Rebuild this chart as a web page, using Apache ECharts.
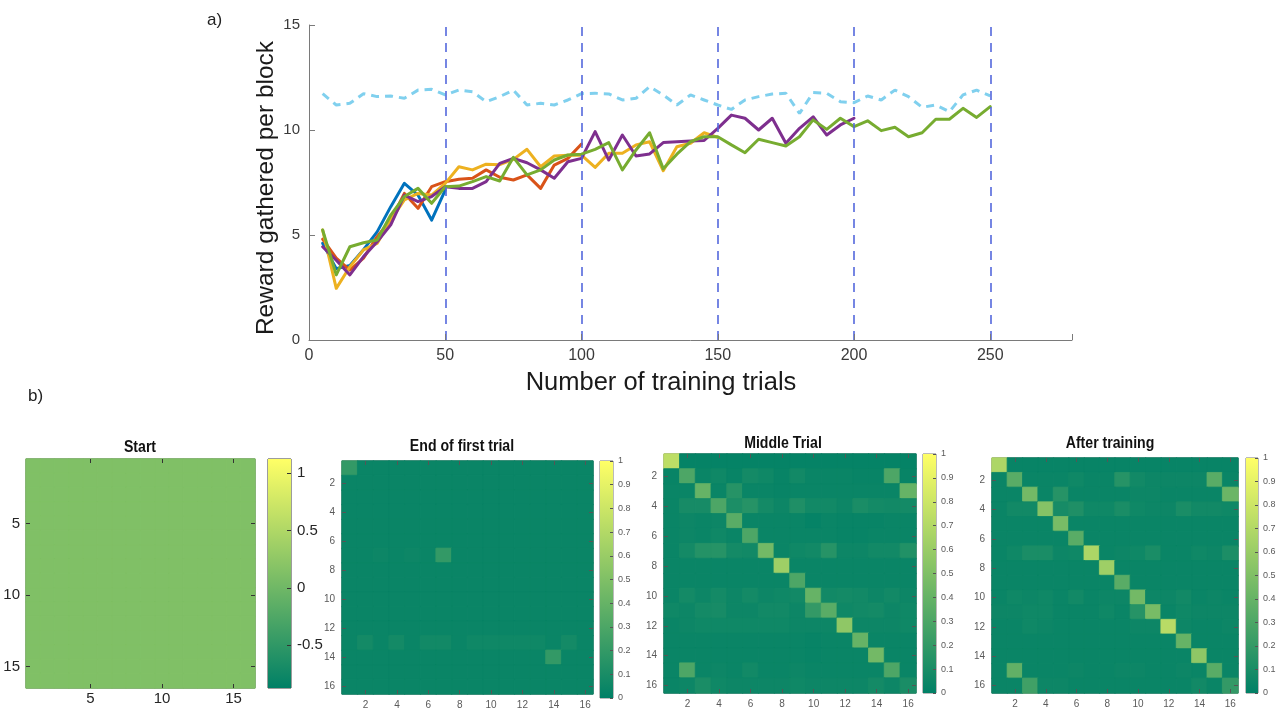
<!DOCTYPE html>
<html>
<head>
<meta charset="utf-8">
<script src="https://cdn.jsdelivr.net/npm/echarts@6/dist/echarts.min.js"></script>
<style>
  html, body { margin: 0; padding: 0; background: #ffffff; }
  #main { width: 1281px; height: 710px; }
</style>
</head>
<body>
<div id="main"></div>
<script>
// ---- a) reward per block of 5 trials ----
const trials = [5,10,15,20,25,30,35,40,45,50,55,60,65,70,75,80,85,90,95,100,
  105,110,115,120,125,130,135,140,145,150,155,160,165,170,175,180,185,190,195,200,
  205,210,215,220,225,230,235,240,245,250];
const rewardRun50  = [4.6,3.4,3.55,4.3,5.15,6.35,7.46,6.9,5.71,7.14];
const rewardRun100 = [4.8,3.9,3.33,3.9,4.92,5.71,6.98,6.27,7.3,7.54,
  7.65,7.7,8.1,7.75,7.62,7.86,7.22,8.33,8.65,9.33];
const rewardRun150 = [5.24,2.46,3.49,4.29,4.6,5.71,6.67,6.98,6.9,7.46,
  8.25,8.1,8.37,8.35,8.6,9.08,8.25,8.76,8.8,8.8,
  8.22,8.89,8.89,9.29,9.44,8.06,9.2,9.37,9.87,9.65];
const rewardRun200 = [4.44,3.8,3.1,3.97,4.68,5.48,6.9,6.59,6.83,7.3,
  7.22,7.22,7.54,8.41,8.65,8.44,8.1,7.7,8.49,8.65,
  9.92,8.57,9.76,8.76,8.86,9.4,9.44,9.48,9.5,10.08,
  10.71,10.56,10.0,10.56,9.37,10.08,10.63,9.76,10.24,10.56];
const rewardRun250 = [5.24,3.1,4.44,4.63,4.76,5.95,6.83,7.22,6.51,7.3,
  7.33,7.54,7.78,7.57,8.7,7.86,8.1,8.57,8.81,8.85,
  9.08,9.4,8.1,9.05,9.87,8.15,8.85,9.45,9.68,9.68,
  9.29,8.92,9.56,9.4,9.24,9.68,10.48,10.03,10.56,10.16,
  10.44,9.97,10.13,9.68,9.87,10.51,10.51,11.03,10.6,11.11];
const rewardOptimal = [11.73,11.19,11.27,11.73,11.59,11.62,11.51,11.9,11.94,11.67,
  11.9,11.82,11.35,11.59,11.9,11.19,11.27,11.19,11.43,11.73,
  11.75,11.72,11.43,11.51,12.06,11.67,11.19,11.67,11.43,11.19,
  10.98,11.43,11.59,11.71,11.75,10.79,11.78,11.75,11.35,11.3,
  11.62,11.43,11.9,11.59,11.08,11.19,10.87,11.67,11.9,11.62];
const blockEnds = [50, 100, 150, 200, 250];
const rewardTicks = [0, 5, 10, 15];

// ---- b) association matrices (row = y, column = x) ----
const heatTitles = ['Start', 'End of first trial', 'Middle Trial', 'After training'];
const matStart = [
  [0.125,0.125,0.125,0.125,0.125,0.125,0.125,0.125,0.125,0.125,0.125,0.125,0.125,0.125,0.125,0.125],
  [0.125,0.125,0.125,0.125,0.125,0.125,0.125,0.125,0.125,0.125,0.125,0.125,0.125,0.125,0.125,0.125],
  [0.125,0.125,0.125,0.125,0.125,0.125,0.125,0.125,0.125,0.125,0.125,0.125,0.125,0.125,0.125,0.125],
  [0.125,0.125,0.125,0.125,0.125,0.125,0.125,0.125,0.125,0.125,0.125,0.125,0.125,0.125,0.125,0.125],
  [0.125,0.125,0.125,0.125,0.125,0.125,0.125,0.125,0.125,0.125,0.125,0.125,0.125,0.125,0.125,0.125],
  [0.125,0.125,0.125,0.125,0.125,0.125,0.125,0.125,0.125,0.125,0.125,0.125,0.125,0.125,0.125,0.125],
  [0.125,0.125,0.125,0.125,0.125,0.125,0.125,0.125,0.125,0.125,0.125,0.125,0.125,0.125,0.125,0.125],
  [0.125,0.125,0.125,0.125,0.125,0.125,0.125,0.125,0.125,0.125,0.125,0.125,0.125,0.125,0.125,0.125],
  [0.125,0.125,0.125,0.125,0.125,0.125,0.125,0.125,0.125,0.125,0.125,0.125,0.125,0.125,0.125,0.125],
  [0.125,0.125,0.125,0.125,0.125,0.125,0.125,0.125,0.125,0.125,0.125,0.125,0.125,0.125,0.125,0.125],
  [0.125,0.125,0.125,0.125,0.125,0.125,0.125,0.125,0.125,0.125,0.125,0.125,0.125,0.125,0.125,0.125],
  [0.125,0.125,0.125,0.125,0.125,0.125,0.125,0.125,0.125,0.125,0.125,0.125,0.125,0.125,0.125,0.125],
  [0.125,0.125,0.125,0.125,0.125,0.125,0.125,0.125,0.125,0.125,0.125,0.125,0.125,0.125,0.125,0.125],
  [0.125,0.125,0.125,0.125,0.125,0.125,0.125,0.125,0.125,0.125,0.125,0.125,0.125,0.125,0.125,0.125],
  [0.125,0.125,0.125,0.125,0.125,0.125,0.125,0.125,0.125,0.125,0.125,0.125,0.125,0.125,0.125,0.125],
  [0.125,0.125,0.125,0.125,0.125,0.125,0.125,0.125,0.125,0.125,0.125,0.125,0.125,0.125,0.125,0.125]
];
const matEndFirst = [
  [0.20,0.04,0.04,0.04,0.04,0.04,0.04,0.04,0.04,0.04,0.04,0.04,0.04,0.04,0.04,0.04],
  [0.04,0.04,0.04,0.04,0.04,0.04,0.04,0.04,0.04,0.04,0.04,0.04,0.04,0.04,0.04,0.04],
  [0.04,0.04,0.04,0.04,0.04,0.04,0.04,0.04,0.04,0.04,0.04,0.04,0.04,0.04,0.04,0.04],
  [0.04,0.04,0.04,0.04,0.04,0.04,0.04,0.04,0.04,0.04,0.04,0.04,0.04,0.04,0.04,0.04],
  [0.04,0.04,0.04,0.04,0.04,0.04,0.04,0.04,0.04,0.04,0.04,0.04,0.04,0.04,0.04,0.04],
  [0.04,0.04,0.04,0.04,0.04,0.04,0.04,0.04,0.04,0.04,0.04,0.04,0.04,0.04,0.04,0.04],
  [0.04,0.04,0.05,0.04,0.05,0.04,0.20,0.04,0.04,0.04,0.04,0.04,0.04,0.04,0.04,0.04],
  [0.04,0.04,0.04,0.04,0.04,0.04,0.04,0.04,0.04,0.04,0.04,0.04,0.04,0.04,0.04,0.04],
  [0.04,0.04,0.04,0.04,0.04,0.04,0.04,0.04,0.04,0.04,0.04,0.04,0.04,0.04,0.04,0.04],
  [0.04,0.04,0.04,0.04,0.04,0.04,0.04,0.04,0.04,0.04,0.04,0.04,0.04,0.04,0.04,0.04],
  [0.04,0.04,0.04,0.04,0.04,0.04,0.04,0.04,0.04,0.04,0.04,0.04,0.04,0.04,0.04,0.04],
  [0.04,0.04,0.04,0.04,0.04,0.04,0.04,0.04,0.04,0.04,0.04,0.04,0.04,0.04,0.04,0.04],
  [0.04,0.08,0.04,0.08,0.04,0.07,0.07,0.04,0.06,0.06,0.06,0.06,0.06,0.04,0.08,0.04],
  [0.04,0.04,0.04,0.04,0.04,0.04,0.04,0.04,0.04,0.04,0.04,0.04,0.04,0.20,0.04,0.04],
  [0.04,0.04,0.04,0.04,0.04,0.04,0.04,0.04,0.04,0.04,0.04,0.04,0.04,0.04,0.04,0.04],
  [0.04,0.04,0.04,0.04,0.04,0.04,0.04,0.04,0.04,0.04,0.04,0.04,0.04,0.04,0.04,0.04]
];
const matMiddle = [
  [0.74,0.02,0.02,0.02,0.02,0.02,0.02,0.02,0.02,0.02,0.02,0.02,0.02,0.02,0.02,0.02],
  [0.03,0.30,0.04,0.06,0.03,0.08,0.06,0.03,0.07,0.04,0.04,0.04,0.03,0.03,0.30,0.03],
  [0.04,0.04,0.40,0.04,0.15,0.04,0.04,0.03,0.04,0.04,0.04,0.04,0.04,0.04,0.04,0.40],
  [0.04,0.09,0.09,0.30,0.11,0.15,0.08,0.05,0.12,0.07,0.07,0.05,0.10,0.08,0.07,0.08],
  [0.04,0.05,0.04,0.05,0.35,0.04,0.04,0.04,0.04,0.02,0.04,0.03,0.03,0.03,0.04,0.04],
  [0.04,0.05,0.04,0.06,0.04,0.30,0.04,0.04,0.04,0.04,0.04,0.03,0.03,0.04,0.04,0.04],
  [0.04,0.08,0.14,0.15,0.08,0.07,0.45,0.04,0.06,0.07,0.15,0.05,0.05,0.07,0.07,0.13],
  [0.04,0.04,0.04,0.04,0.04,0.04,0.04,0.62,0.04,0.04,0.04,0.04,0.04,0.04,0.04,0.04],
  [0.04,0.04,0.04,0.04,0.04,0.04,0.04,0.04,0.30,0.04,0.04,0.04,0.04,0.04,0.04,0.04],
  [0.04,0.08,0.05,0.08,0.05,0.08,0.05,0.06,0.07,0.40,0.07,0.08,0.07,0.05,0.07,0.05],
  [0.06,0.05,0.08,0.09,0.05,0.05,0.07,0.07,0.05,0.20,0.35,0.06,0.07,0.08,0.05,0.06],
  [0.04,0.05,0.06,0.06,0.06,0.06,0.06,0.06,0.05,0.05,0.05,0.56,0.05,0.05,0.05,0.06],
  [0.04,0.04,0.04,0.04,0.04,0.04,0.04,0.04,0.04,0.03,0.04,0.04,0.40,0.04,0.04,0.04],
  [0.04,0.04,0.04,0.04,0.04,0.04,0.04,0.04,0.04,0.03,0.04,0.04,0.04,0.45,0.04,0.04],
  [0.04,0.30,0.04,0.05,0.04,0.07,0.04,0.04,0.05,0.04,0.04,0.04,0.04,0.04,0.30,0.04],
  [0.04,0.05,0.10,0.06,0.05,0.05,0.05,0.05,0.06,0.05,0.05,0.05,0.05,0.08,0.05,0.10]
];
const matAfter = [
  [0.68,0.03,0.03,0.03,0.03,0.03,0.03,0.03,0.03,0.03,0.03,0.03,0.03,0.03,0.03,0.03],
  [0.04,0.35,0.04,0.04,0.04,0.06,0.04,0.04,0.15,0.07,0.05,0.05,0.05,0.05,0.35,0.04],
  [0.04,0.04,0.45,0.04,0.15,0.04,0.04,0.04,0.04,0.05,0.05,0.04,0.04,0.04,0.04,0.42],
  [0.04,0.07,0.07,0.52,0.09,0.12,0.06,0.06,0.10,0.06,0.05,0.05,0.10,0.07,0.07,0.06],
  [0.04,0.04,0.04,0.04,0.47,0.04,0.04,0.04,0.04,0.04,0.04,0.04,0.04,0.04,0.04,0.04],
  [0.04,0.04,0.04,0.04,0.04,0.35,0.04,0.04,0.04,0.04,0.04,0.04,0.04,0.04,0.04,0.04],
  [0.04,0.06,0.10,0.10,0.05,0.06,0.68,0.04,0.05,0.06,0.10,0.04,0.04,0.06,0.05,0.11],
  [0.04,0.04,0.04,0.04,0.04,0.04,0.04,0.62,0.04,0.04,0.04,0.04,0.04,0.04,0.04,0.04],
  [0.04,0.04,0.04,0.04,0.04,0.04,0.04,0.04,0.35,0.04,0.04,0.04,0.04,0.04,0.04,0.04],
  [0.04,0.06,0.05,0.06,0.04,0.07,0.04,0.05,0.05,0.45,0.05,0.05,0.07,0.04,0.05,0.04],
  [0.05,0.05,0.06,0.06,0.04,0.04,0.04,0.06,0.04,0.15,0.47,0.04,0.06,0.05,0.05,0.05],
  [0.04,0.04,0.06,0.05,0.04,0.04,0.04,0.04,0.04,0.05,0.05,0.72,0.05,0.04,0.04,0.05],
  [0.04,0.04,0.04,0.04,0.04,0.04,0.04,0.04,0.04,0.04,0.04,0.04,0.40,0.04,0.04,0.04],
  [0.04,0.04,0.04,0.04,0.04,0.04,0.04,0.04,0.04,0.04,0.04,0.04,0.04,0.56,0.04,0.04],
  [0.04,0.38,0.04,0.04,0.04,0.05,0.04,0.04,0.05,0.05,0.04,0.04,0.05,0.04,0.35,0.04],
  [0.04,0.04,0.25,0.05,0.05,0.04,0.04,0.04,0.04,0.04,0.04,0.04,0.04,0.07,0.04,0.20]
];
const cellIds = ['1','2','3','4','5','6','7','8','9','10','11','12','13','14','15','16'];
const startAxisTicks = ['5', '10', '15'];
const evenAxisTicks = ['2', '4', '6', '8', '10', '12', '14', '16'];
const colorRanges = [[-0.875, 1.125], [0, 1], [0, 1], [0, 1]];
const startBarTicks = [-0.5, 0, 0.5, 1];
const unitBarTicks = [0, 0.1, 0.2, 0.3, 0.4, 0.5, 0.6, 0.7, 0.8, 0.9, 1];

// ---- drawing ----
const FONT = "'Liberation Sans', Arial, sans-serif";
const SUMMER = ['#008066', '#ffff66'];
const NO_SPLIT = { splitLine: { show: false }, splitArea: { show: false } };

// same linear "summer" ramp as the visualMap, used to stroke each cell's edge
// so neighbouring cells meet without anti-aliasing seams
function summerColor(v, lo, hi) {
  const t = Math.max(0, Math.min(1, (v - lo) / (hi - lo)));
  return 'rgb(' + Math.round(255 * t) + ',' + Math.round(128 + 127 * t) + ',102)';
}

const chart = echarts.init(document.getElementById('main'), null, { renderer: 'canvas' });

const grids = [{ left: 309, top: 25, width: 763, height: 315 }];
const xAxes = [Object.assign({
  type: 'value', gridIndex: 0, min: 0, max: 280, interval: 50, z: 5,
  axisLine: { onZero: false, lineStyle: { color: '#7a7a7a', width: 1 } },
  axisTick: { inside: true, length: 6, lineStyle: { color: '#7a7a7a' } },
  axisLabel: { fontFamily: FONT, fontSize: 16, color: '#3a3a3a', margin: 8,
    formatter: v => (v % 50 === 0 ? String(v) : '') }
}, NO_SPLIT)];
const yAxes = [Object.assign({
  type: 'value', gridIndex: 0, min: 0, max: 15, z: 5,
  axisLine: { show: true, onZero: false, lineStyle: { color: '#7a7a7a', width: 1 } },
  axisTick: { show: true, inside: true, length: 6, lineStyle: { color: '#7a7a7a' },
    customValues: rewardTicks },
  axisLabel: { fontFamily: FONT, fontSize: 15, color: '#3a3a3a', margin: 9,
    customValues: rewardTicks }
}, NO_SPLIT)];

const pairs = vals => vals.map((v, i) => [trials[i], v]);
const lineSeries = (name, vals, color, extra) => Object.assign({
  name, type: 'line', xAxisIndex: 0, yAxisIndex: 0, data: pairs(vals),
  showSymbol: false, symbol: 'none', silent: true,
  lineStyle: { color, width: 3, cap: 'round', join: 'round' }, z: 3
}, extra || {});

const series = [
  lineSeries('run50', rewardRun50, '#0072BD'),
  lineSeries('run100', rewardRun100, '#D95319'),
  lineSeries('run150', rewardRun150, '#EDB120'),
  lineSeries('run200', rewardRun200, '#7E2F8E'),
  lineSeries('run250', rewardRun250, '#77AC30'),
  lineSeries('optimal', rewardOptimal, '#80D0EE', {
    lineStyle: { color: '#80D0EE', width: 3, type: [8, 6] },
    markLine: {
      silent: true, symbol: 'none', label: { show: false },
      lineStyle: { color: '#5468DC', width: 1.6, type: [9, 7] },
      data: blockEnds.map(v => ({ xAxis: v }))
    }
  })
];

const panels = [
  { mat: matStart, grid: { left: 26, top: 459, width: 229, height: 229 },
    bar: { left: 268, top: 459, width: 23, height: 229 },
    ticks: startAxisTicks, barTicks: startBarTicks, big: true, titleX: 140, titleY: 447 },
  { mat: matEndFirst, grid: { left: 342, top: 461, width: 251, height: 237 },
    bar: { left: 600, top: 461, width: 13, height: 237 },
    ticks: evenAxisTicks, barTicks: unitBarTicks, big: false, titleX: 462, titleY: 446 },
  { mat: matMiddle, grid: { left: 664, top: 454, width: 252, height: 239 },
    bar: { left: 923, top: 454, width: 13, height: 239 },
    ticks: evenAxisTicks, barTicks: unitBarTicks, big: false, titleX: 783, titleY: 443 },
  { mat: matAfter, grid: { left: 992, top: 458, width: 246, height: 235 },
    bar: { left: 1246, top: 458, width: 12, height: 235 },
    ticks: evenAxisTicks, barTicks: unitBarTicks, big: false, titleX: 1110, titleY: 443 }
];

const visualMaps = [];
const graphics = [
  { type: 'text', x: 207, y: 12, style: { text: 'a)', font: '17px ' + FONT, fill: '#222' } },
  { type: 'text', x: 28, y: 388, style: { text: 'b)', font: '17px ' + FONT, fill: '#222' } },
  { type: 'text', x: 661, y: 383,
    style: { text: 'Number of training trials', font: '25.5px ' + FONT, fill: '#1a1a1a',
      textAlign: 'center', textVerticalAlign: 'middle' } },
  { type: 'text', x: 266, y: 188, rotation: Math.PI / 2,
    style: { text: 'Reward gathered per block', font: '24.5px ' + FONT, fill: '#1a1a1a',
      textAlign: 'center', textVerticalAlign: 'middle' } }
];

panels.forEach((p, k) => {
  const range = colorRanges[k];
  const labelStyle = p.big
    ? { fontFamily: FONT, fontSize: 15, color: '#262626' }
    : { fontFamily: FONT, fontSize: 10, color: '#5a5a5a' };
  const showTick = (i, v) => p.ticks.indexOf(String(v)) >= 0;
  const tickColor = p.big ? '#333' : '#555';
  const tick = { show: true, inside: true, length: 4, alignWithLabel: true, interval: showTick,
    lineStyle: { color: tickColor } };

  // matrix grid
  const gi = grids.length;
  grids.push(Object.assign({ show: true, borderColor: p.big ? '#3a3a3a' : '#4a4a4a', borderWidth: 1,
    backgroundColor: 'transparent' }, p.grid));
  const xi = xAxes.length;
  xAxes.push(Object.assign({
    type: 'category', gridIndex: gi, data: cellIds, position: 'bottom', z: 5,
    axisLine: { show: false }, axisTick: tick,
    axisLabel: Object.assign({ interval: showTick, margin: p.big ? 3 : 6 }, labelStyle)
  }, NO_SPLIT));
  xAxes.push(Object.assign({
    type: 'category', gridIndex: gi, data: cellIds, position: 'top', z: 5,
    axisLine: { show: false }, axisLabel: { show: false }, axisTick: tick
  }, NO_SPLIT));
  const yi = yAxes.length;
  yAxes.push(Object.assign({
    type: 'category', gridIndex: gi, data: cellIds, inverse: true, position: 'left', z: 5,
    axisLine: { show: false }, axisTick: tick,
    axisLabel: Object.assign({ interval: showTick, margin: p.big ? 6 : 7 }, labelStyle)
  }, NO_SPLIT));
  yAxes.push(Object.assign({
    type: 'category', gridIndex: gi, data: cellIds, inverse: true, position: 'right', z: 5,
    axisLine: { show: false }, axisLabel: { show: false }, axisTick: tick
  }, NO_SPLIT));
  const cells = [];
  p.mat.forEach((row, r) => row.forEach((v, c) => cells.push({
    value: [c, r, v],
    itemStyle: { borderColor: summerColor(v, range[0], range[1]), borderWidth: 0.8 }
  })));
  const si = series.length;
  series.push({
    type: 'heatmap', xAxisIndex: xi, yAxisIndex: yi, data: cells,
    silent: true, emphasis: { disabled: true }, progressive: 0, z: 1
  });
  visualMaps.push({
    type: 'continuous', show: false, seriesIndex: si, dimension: 2,
    min: range[0], max: range[1], inRange: { color: SUMMER }
  });

  // colour bar
  const bi = grids.length;
  grids.push(Object.assign({ show: true, borderColor: p.big ? '#3a3a3a' : '#777', borderWidth: 1,
    backgroundColor: 'transparent' }, p.bar));
  const bxi = xAxes.length;
  xAxes.push(Object.assign({ type: 'value', gridIndex: bi, min: 0, max: 1, show: false }, NO_SPLIT));
  const byi = yAxes.length;
  yAxes.push(Object.assign({
    type: 'value', gridIndex: bi, min: range[0], max: range[1], position: 'right', z: 5,
    axisLine: { show: false, onZero: false },
    axisTick: { show: true, inside: true, length: p.big ? 4 : 3, customValues: p.barTicks,
      lineStyle: { color: tickColor } },
    axisLabel: Object.assign({ customValues: p.barTicks, margin: p.big ? 6 : 5,
      formatter: v => String(Math.round(v * 10) / 10) },
      p.big ? { fontFamily: FONT, fontSize: 15, color: '#262626' }
            : { fontFamily: FONT, fontSize: 9, color: '#5a5a5a' })
  }, NO_SPLIT));
  series.push({
    type: 'custom', xAxisIndex: bxi, yAxisIndex: byi, silent: true, z: 1,
    data: [[0, range[0], range[1]]],
    renderItem: (params, api) => {
      const a = api.coord([0, api.value(2)]);
      const b = api.coord([1, api.value(1)]);
      return {
        type: 'rect',
        shape: { x: a[0], y: a[1], width: b[0] - a[0], height: b[1] - a[1] },
        style: { fill: new echarts.graphic.LinearGradient(0, 0, 0, 1, [
          { offset: 0, color: SUMMER[1] }, { offset: 1, color: SUMMER[0] }]) }
      };
    }
  });

  graphics.push({
    type: 'text', x: p.titleX, y: p.titleY, scaleX: 0.83, scaleY: 1,
    style: { text: heatTitles[k], font: 'bold 17px ' + FONT, fill: '#111',
      textAlign: 'center', textVerticalAlign: 'middle' }
  });
});

chart.setOption({
  animation: false,
  backgroundColor: '#ffffff',
  grid: grids,
  xAxis: xAxes,
  yAxis: yAxes,
  visualMap: visualMaps,
  series: series,
  graphic: graphics
});
</script>
</body>
</html>
